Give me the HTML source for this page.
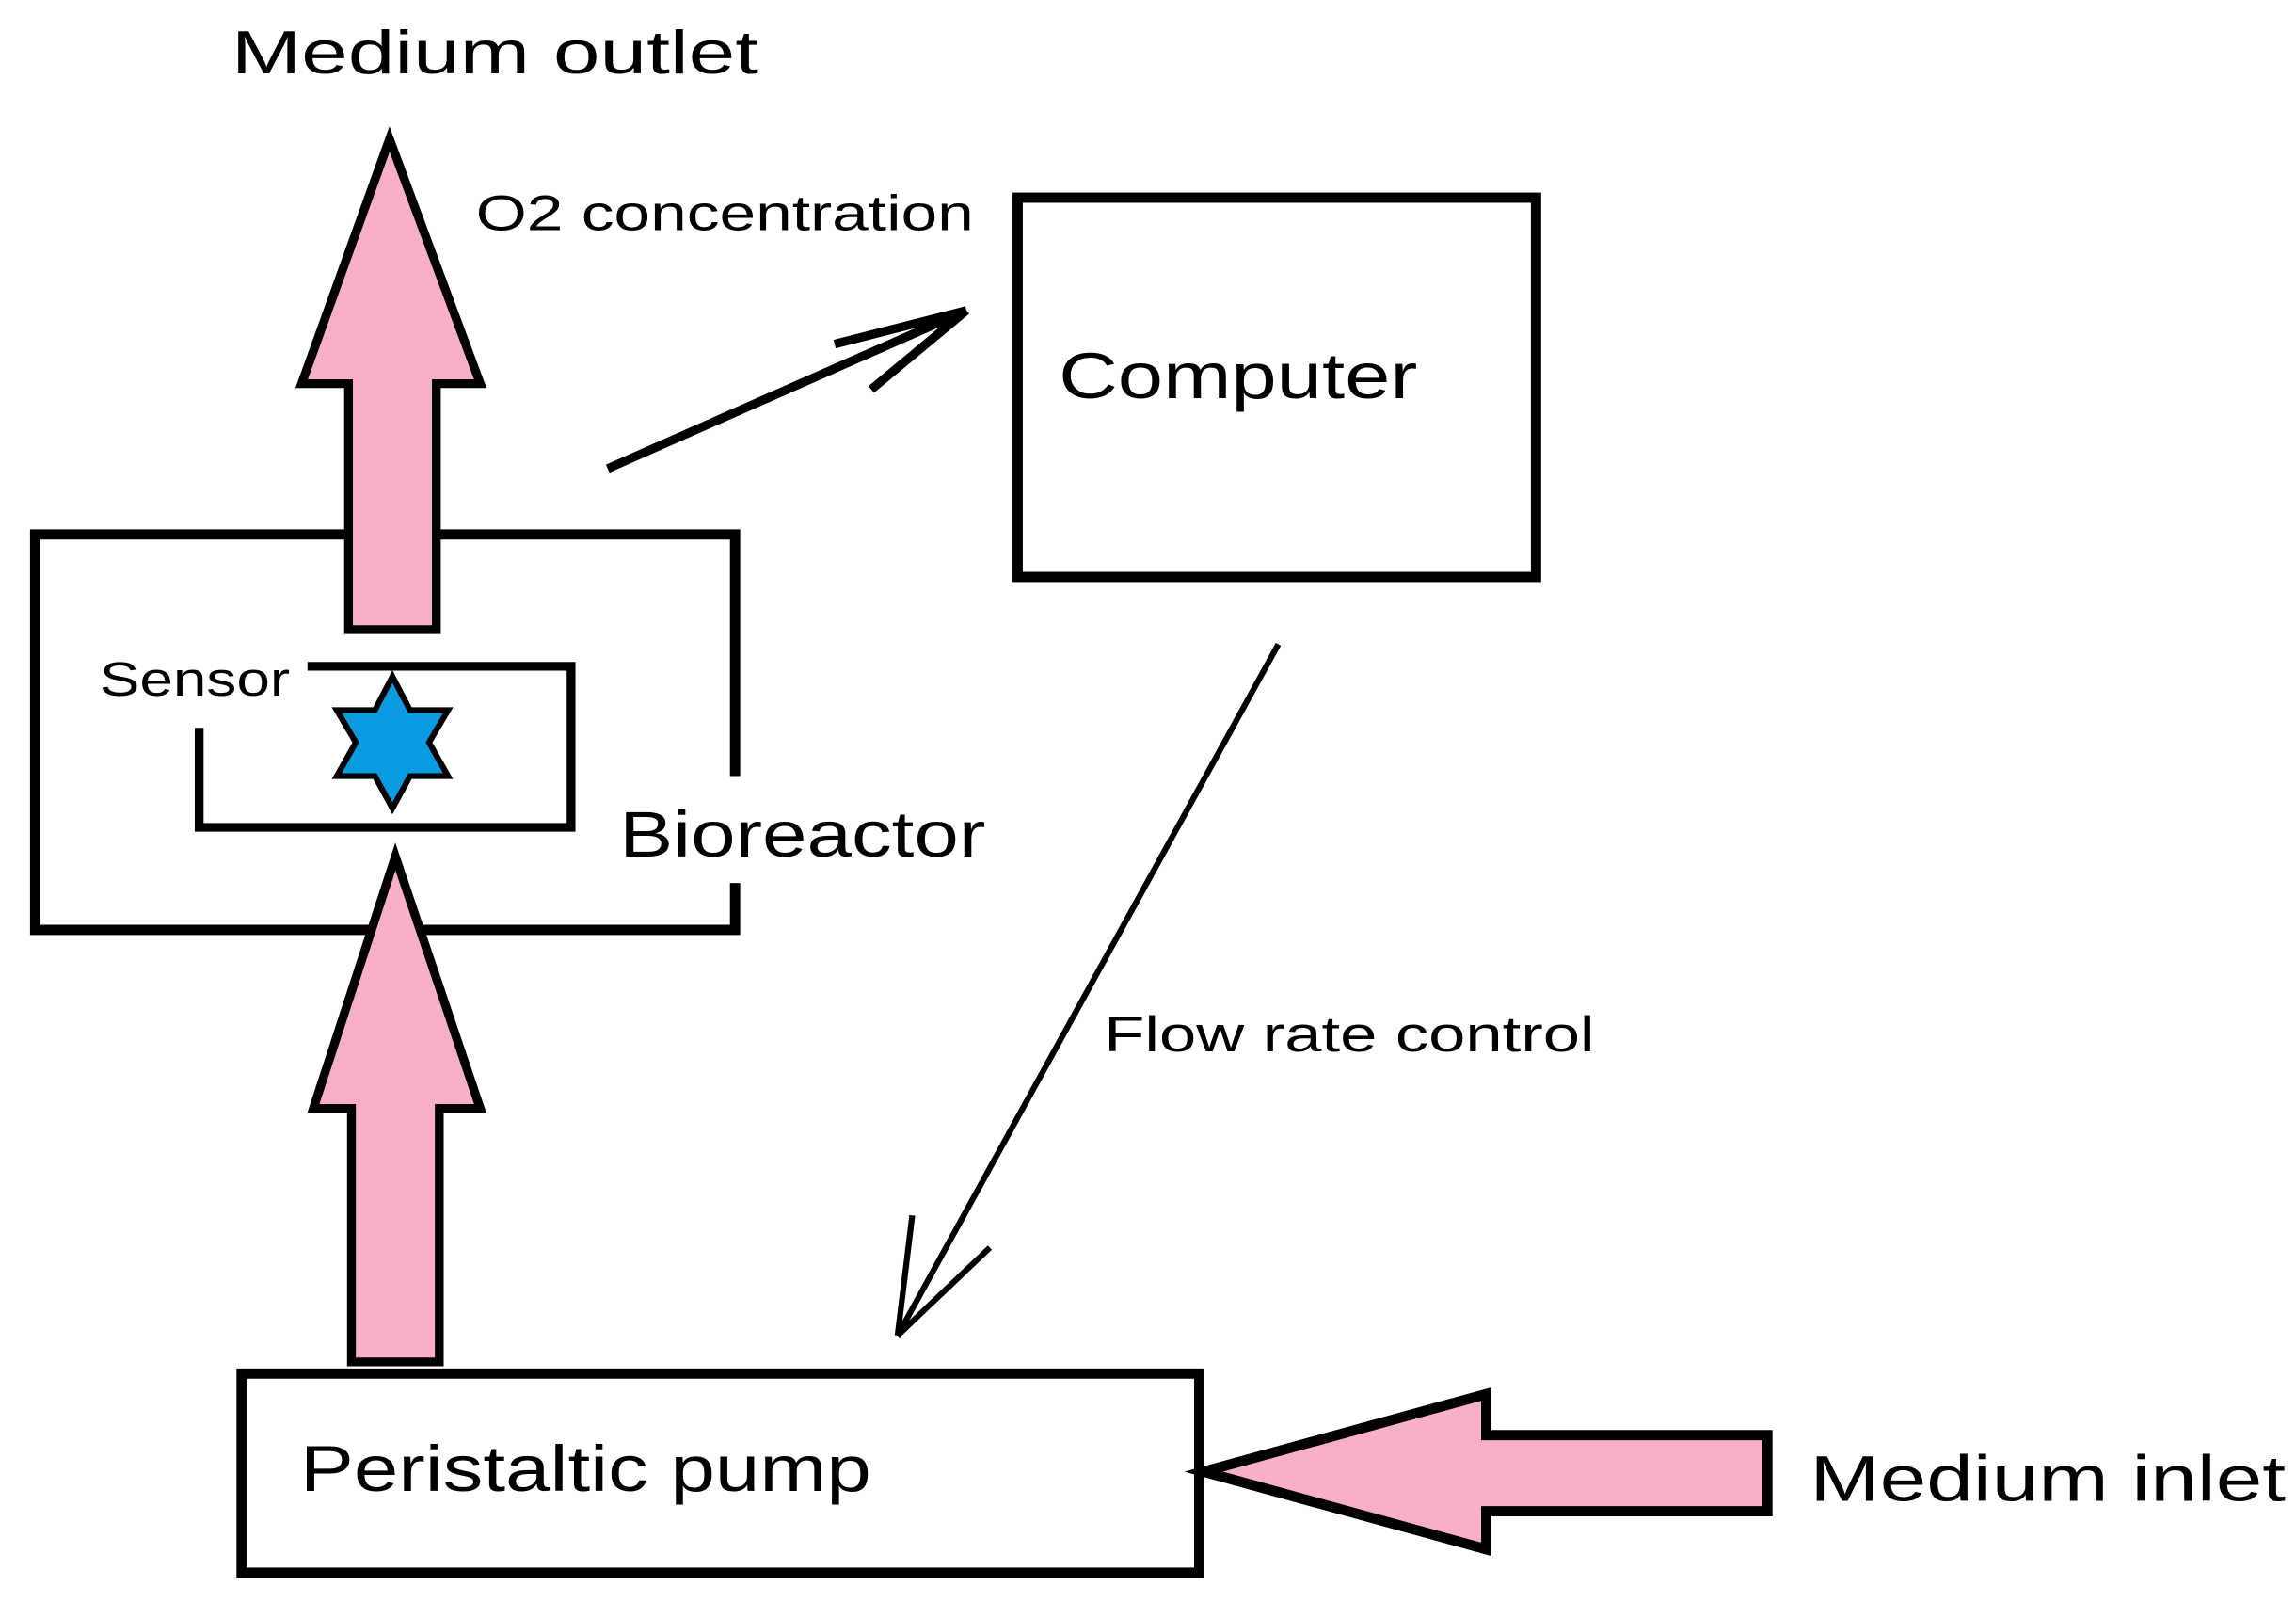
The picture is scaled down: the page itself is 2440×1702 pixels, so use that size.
<!DOCTYPE html>
<html><head><meta charset="utf-8"><style>
html,body{margin:0;padding:0;background:#fff;}
svg{display:block;}
text{font-family:"Liberation Sans",sans-serif;fill:#000;}
</style></head><body>
<svg width="2440" height="1702" viewBox="0 0 1568 1094" preserveAspectRatio="none" xmlns="http://www.w3.org/2000/svg">
<rect x="0" y="0" width="1568" height="1094" fill="#fff"/>
<text x="158" y="50" font-size="42" textLength="360" lengthAdjust="spacingAndGlyphs">Medium outlet</text>
<text x="325" y="157" font-size="34" textLength="340" lengthAdjust="spacingAndGlyphs">O2 concentration</text>
<path d="M502 530 V365 H24 V635 H502 V603" fill="none" stroke="#000" stroke-width="7"/>
<path d="M210 455 H390 V565 H136 V497" fill="none" stroke="#000" stroke-width="6"/>
<text x="68" y="475" font-size="33" textLength="130" lengthAdjust="spacingAndGlyphs">Sensor</text>
<text x="423" y="585" font-size="44" textLength="250" lengthAdjust="spacingAndGlyphs">Bioreactor</text>
<polygon points="266,95 328,262 298,262 298,430 238,430 238,262 206,262" fill="#f9afc8" stroke="#000" stroke-width="6"/>
<polygon points="268,462 280,485 306,485 293,507 306,530 280,530 268,552 256,530 230,530 243,507 230,485 256,485" fill="#0a9be0" stroke="#000" stroke-width="4"/>
<polygon points="270,585 328,757 300,757 300,930 240,930 240,757 214,757" fill="#f9afc8" stroke="#000" stroke-width="6"/>
<rect x="695" y="135" width="354" height="259" fill="none" stroke="#000" stroke-width="7"/>
<text x="723" y="272" font-size="44" textLength="245" lengthAdjust="spacingAndGlyphs">Computer</text>
<g stroke="#000" stroke-width="6" fill="none">
<line x1="415" y1="320" x2="660" y2="212"/>
<line x1="570" y1="235" x2="660" y2="212"/>
<line x1="595" y1="266" x2="660" y2="212"/>
</g>
<g stroke="#000" stroke-width="4" fill="none">
<line x1="873" y1="440" x2="613" y2="912"/>
<line x1="623" y1="830" x2="613" y2="912"/>
<line x1="676" y1="852" x2="613" y2="912"/>
</g>
<text x="754" y="718" font-size="34" textLength="335" lengthAdjust="spacingAndGlyphs">Flow rate control</text>
<rect x="165" y="938" width="654" height="136" fill="#fff" stroke="#000" stroke-width="7"/>
<text x="205" y="1018" font-size="44" textLength="390" lengthAdjust="spacingAndGlyphs">Peristaltic pump</text>
<polygon points="822,1005 1015,952 1015,980 1207,980 1207,1032 1015,1032 1015,1058" fill="#f9afc8" stroke="#000" stroke-width="7"/>
<text x="1236" y="1025" font-size="44" textLength="325" lengthAdjust="spacingAndGlyphs">Medium inlet</text>
</svg>
</body></html>
